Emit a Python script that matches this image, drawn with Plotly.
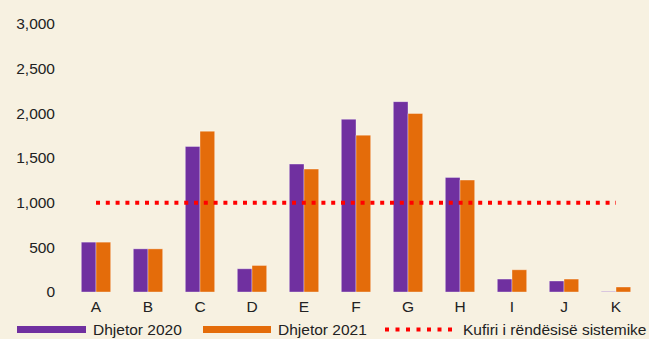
import plotly.graph_objects as go

categories = ["A", "B", "C", "D", "E", "F", "G", "H", "I", "J", "K"]
dhjetor_2020 = [558, 483, 1629, 260, 1432, 1934, 2131, 1283, 145, 123, 5]
dhjetor_2021 = [558, 483, 1800, 297, 1376, 1756, 1998, 1253, 249, 145, 56]
threshold = [1000] * len(categories)
series_names = ["Dhjetor 2020", "Dhjetor 2021", "Kufiri i rëndësisë sistemike"]
y_ticks = [0, 500, 1000, 1500, 2000, 2500, 3000]

PURPLE = "#7030A0"
ORANGE = "#E46C0A"
RED = "#FF0000"
BG = "#F7F1E1"
FONT = "Liberation Sans, Arial, sans-serif"
FS = 15.5

PLOT_L, PLOT_R, PLOT_T, PLOT_B = 70, 642, 23.5, 292.3

fig = go.Figure()
fig.add_bar(x=categories, y=dhjetor_2020, name=series_names[0],
            marker=dict(color=PURPLE, line=dict(color="rgba(255,255,255,0.35)", width=1)))
fig.add_bar(x=categories, y=dhjetor_2021, name=series_names[1],
            marker=dict(color=ORANGE, line=dict(color="rgba(255,255,255,0.35)", width=1)))
fig.add_scatter(x=categories, y=threshold, name=series_names[2], mode="lines",
                line=dict(color=RED, width=4, dash="4px,5.8px"))

# manual legend (styling only)
def px_x(px):
    return (px - PLOT_L) / (PLOT_R - PLOT_L)

def px_y(py):
    return (PLOT_B - py) / (PLOT_B - PLOT_T)

legend_y = px_y(330)

shapes = [
    dict(type="line", xref="paper", yref="paper", x0=px_x(17), x1=px_x(86), y0=legend_y, y1=legend_y,
         line=dict(color=PURPLE, width=7)),
    dict(type="line", xref="paper", yref="paper", x0=px_x(203), x1=px_x(271), y0=legend_y, y1=legend_y,
         line=dict(color=ORANGE, width=7)),
    dict(type="line", xref="paper", yref="paper", x0=px_x(385), x1=px_x(452), y0=legend_y, y1=legend_y,
         line=dict(color=RED, width=4, dash="4px,6.5px")),
]
annotations = [
    dict(xref="paper", yref="paper", x=px_x(x0), y=legend_y, text=t, showarrow=False,
         xanchor="left", yanchor="middle", font=dict(size=FS, color="#222", family=FONT))
    for x0, t in [(91, series_names[0]), (276, series_names[1]), (461, series_names[2])]
]

fig.update_layout(
    width=649, height=339,
    paper_bgcolor=BG, plot_bgcolor=BG,
    margin=dict(l=PLOT_L, r=649 - PLOT_R, t=PLOT_T, b=339 - PLOT_B),
    barmode="group", bargap=0.435, bargroupgap=0,
    showlegend=False,
    font=dict(family=FONT, size=FS, color="#222"),
    shapes=shapes, annotations=annotations,
    xaxis=dict(showgrid=False, showline=False, zeroline=False, ticks="",
               ticklabelstandoff=3, tickfont=dict(size=FS)),
    yaxis=dict(range=[0, 3000], tickvals=y_ticks, tickformat=",", showgrid=False,
               showline=False, zeroline=False, ticks="", ticklabelstandoff=14,
               tickfont=dict(size=FS)),
)

fig.write_html("out.html", config={"displayModeBar": False},
               post_script="document.body.style.margin='0';document.body.style.background='%s';" % BG)
